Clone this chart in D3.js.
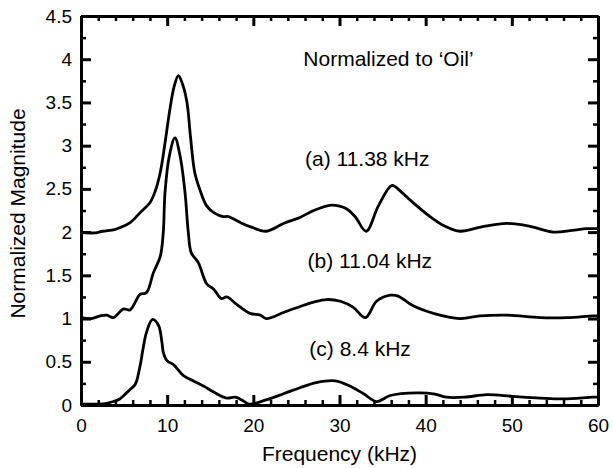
<!DOCTYPE html>
<html>
<head>
<meta charset="utf-8">
<script src="https://cdn.jsdelivr.net/npm/d3@7/dist/d3.min.js"></script>
<style>
  body { margin: 0; background: #fff; }
  svg { display: block; font-family: "Liberation Sans", Arial, sans-serif; }
</style>
</head>
<body>
<svg id="chart" width="613" height="468"></svg>
<script>
// curve (a) 11.38 kHz, offset by 2
const freqA = [0, 1.5, 2.5, 3.9, 4.5, 5.7, 7.0, 8.0, 8.6, 9.2, 9.75, 10.3, 10.8, 11.3, 11.76, 12.3, 12.7, 13.2, 13.8, 14.6, 15.5, 16.5, 17.1, 18.5, 19.7, 21.5, 23.5, 25.4, 27.0, 28.9, 30.0, 30.8, 31.8, 33.1, 34.5, 36.1, 37.0, 38.2, 40.5, 42.2, 44.0, 46.5, 49.4, 52.0, 54.8, 57.0, 58.7, 60];
const magA  = [2.00, 1.99, 2.01, 2.03, 2.05, 2.11, 2.24, 2.34, 2.47, 2.69, 3.03, 3.41, 3.68, 3.81, 3.72, 3.50, 3.11, 2.69, 2.49, 2.30, 2.22, 2.18, 2.18, 2.11, 2.06, 2.01, 2.10, 2.17, 2.25, 2.31, 2.30, 2.27, 2.18, 2.01, 2.30, 2.54, 2.48, 2.37, 2.18, 2.07, 2.01, 2.06, 2.10, 2.07, 2.00, 2.02, 2.04, 2.04];

// curve (b) 11.04 kHz, offset by 1
const freqB = [0, 1.2, 2.2, 3.0, 3.75, 4.9, 5.7, 6.85, 7.6, 8.4, 9.2, 9.55, 9.75, 10.25, 10.9, 11.5, 12.07, 12.45, 12.8, 13.6, 14.6, 15.4, 16.3, 16.9, 18.1, 19.6, 20.8, 21.5, 23.5, 24.6, 27.0, 28.5, 30.1, 31.6, 33.0, 34.3, 35.9, 36.8, 38.5, 40.9, 44.0, 46.3, 49.4, 53.3, 56.4, 59.4, 60];
const magB  = [1.01, 1.00, 1.03, 1.04, 1.01, 1.11, 1.10, 1.28, 1.30, 1.53, 1.72, 2.00, 2.46, 2.88, 3.09, 2.88, 2.46, 2.00, 1.76, 1.65, 1.40, 1.34, 1.23, 1.25, 1.16, 1.06, 1.04, 1.00, 1.07, 1.11, 1.19, 1.22, 1.20, 1.13, 1.01, 1.20, 1.27, 1.26, 1.15, 1.06, 1.00, 1.03, 1.04, 1.01, 1.01, 1.03, 1.03];

// curve (c) 8.4 kHz
const freqC = [0, 2.0, 3.0, 3.75, 4.5, 5.7, 6.3, 6.85, 7.2, 7.6, 8.3, 9.0, 9.4, 9.55, 10.0, 10.7, 11.9, 13.0, 14.2, 15.4, 16.9, 17.9, 18.8, 19.5, 21.5, 23.5, 25.4, 27.3, 29.5, 31.2, 32.8, 34.3, 35.9, 39.0, 40.9, 42.4, 44.5, 47.1, 50.1, 53.3, 56.0, 59.4, 60];
const magC  = [0.01, 0.01, 0.02, 0.04, 0.07, 0.18, 0.24, 0.45, 0.65, 0.84, 0.99, 0.92, 0.72, 0.61, 0.51, 0.47, 0.34, 0.28, 0.22, 0.15, 0.08, 0.09, 0.05, 0.01, 0.06, 0.13, 0.20, 0.26, 0.28, 0.22, 0.13, 0.04, 0.11, 0.14, 0.13, 0.09, 0.09, 0.12, 0.10, 0.08, 0.07, 0.09, 0.09];

const xTicks = [0, 10, 20, 30, 40, 50, 60];
const yTicks = [0, 0.5, 1, 1.5, 2, 2.5, 3, 3.5, 4, 4.5];
const xMinor = [2, 4, 6, 8, 12, 14, 16, 18, 22, 24, 26, 28, 32, 34, 36, 38, 42, 44, 46, 48, 52, 54, 56, 58];
const yMinor = [0.25, 0.75, 1.25, 1.75, 2.25, 2.75, 3.25, 3.75, 4.25];

// annotations: text and where it sits (in data units)
const labelText = ["Normalized to \u2018Oil\u2019", "(a) 11.38 kHz", "(b) 11.04 kHz", "(c) 8.4 kHz"];
const labelFreq = [25.8, 26.0, 26.3, 26.5];
const labelMag  = [3.92, 2.76, 1.59, 0.57];

const svg = d3.select("#chart");
const margin = { top: 16, right: 15, bottom: 63, left: 81 };
const width = 613 - margin.left - margin.right;
const height = 468 - margin.top - margin.bottom;

const x = d3.scaleLinear().domain([0, 60]).range([0, width]);
const y = d3.scaleLinear().domain([0, 4.5]).range([height, 0]);

const g = svg.append("g").attr("transform", `translate(${margin.left},${margin.top})`);

// frame: the axis domains, thick, on all four sides
function styleAxis(sel, w) {
    sel.select(".domain").attr("stroke", "#000").attr("stroke-width", 3);
    sel.selectAll(".tick line").attr("stroke", "#000").attr("stroke-width", w);
    sel.selectAll(".tick text")
        .attr("fill", "#000")
        .style("font-size", "19px");
}
const noLabel = () => "";

// minor ticks (inward)
g.append("g").attr("transform", `translate(0,${height})`)
    .call(d3.axisBottom(x).tickValues(xMinor).tickSizeInner(-5).tickSizeOuter(0).tickFormat(noLabel))
    .call(styleAxis, 2.5);
g.append("g")
    .call(d3.axisTop(x).tickValues(xMinor).tickSizeInner(-5).tickSizeOuter(0).tickFormat(noLabel))
    .call(styleAxis, 2.5);
g.append("g")
    .call(d3.axisLeft(y).tickValues(yMinor).tickSizeInner(-5).tickSizeOuter(0).tickFormat(noLabel))
    .call(styleAxis, 2.5);
g.append("g").attr("transform", `translate(${width},0)`)
    .call(d3.axisRight(y).tickValues(yMinor).tickSizeInner(-5).tickSizeOuter(0).tickFormat(noLabel))
    .call(styleAxis, 2.5);

// major ticks (inward) and labels
g.append("g").attr("transform", `translate(0,${height})`)
    .call(d3.axisBottom(x).tickValues(xTicks).tickSizeInner(-10).tickSizeOuter(0).tickPadding(14).tickFormat(d => String(d)))
    .call(styleAxis, 3);
g.append("g")
    .call(d3.axisTop(x).tickValues(xTicks).tickSizeInner(-10).tickSizeOuter(0).tickFormat(noLabel))
    .call(styleAxis, 3);
g.append("g")
    .call(d3.axisLeft(y).tickValues(yTicks).tickSizeInner(-10).tickSizeOuter(0).tickPadding(9).tickFormat(d => String(d)))
    .call(styleAxis, 3);
g.append("g").attr("transform", `translate(${width},0)`)
    .call(d3.axisRight(y).tickValues(yTicks).tickSizeInner(-10).tickSizeOuter(0).tickFormat(noLabel))
    .call(styleAxis, 3);

// curves
const line = d3.line()
    .x(d => x(d[0]))
    .y(d => y(d[1]))
    .curve(d3.curveCatmullRom.alpha(0.5));

const series = [
    d3.zip(freqA, magA),
    d3.zip(freqB, magB),
    d3.zip(freqC, magC),
];
g.selectAll(".curve")
    .data(series)
    .join("path")
    .attr("class", "curve")
    .attr("fill", "none")
    .attr("stroke", "#000")
    .attr("stroke-width", 2.8)
    .attr("stroke-linejoin", "round")
    .attr("d", line);

// annotations
g.selectAll(".label")
    .data(labelText)
    .join("text")
    .attr("class", "label")
    .attr("x", (d, i) => x(labelFreq[i]))
    .attr("y", (d, i) => y(labelMag[i]))
    .attr("font-size", 21)
    .attr("fill", "#000")
    .text(d => d);

// axis titles
svg.append("text")
    .attr("x", margin.left + width / 2)
    .attr("y", 461)
    .attr("text-anchor", "middle")
    .attr("font-size", 21)
    .text("Frequency (kHz)");

svg.append("text")
    .attr("transform", `translate(25,${margin.top + height / 2 + 3}) rotate(-90)`)
    .attr("text-anchor", "middle")
    .attr("font-size", 21)
    .text("Normalized Magnitude");
</script>
</body>
</html>
